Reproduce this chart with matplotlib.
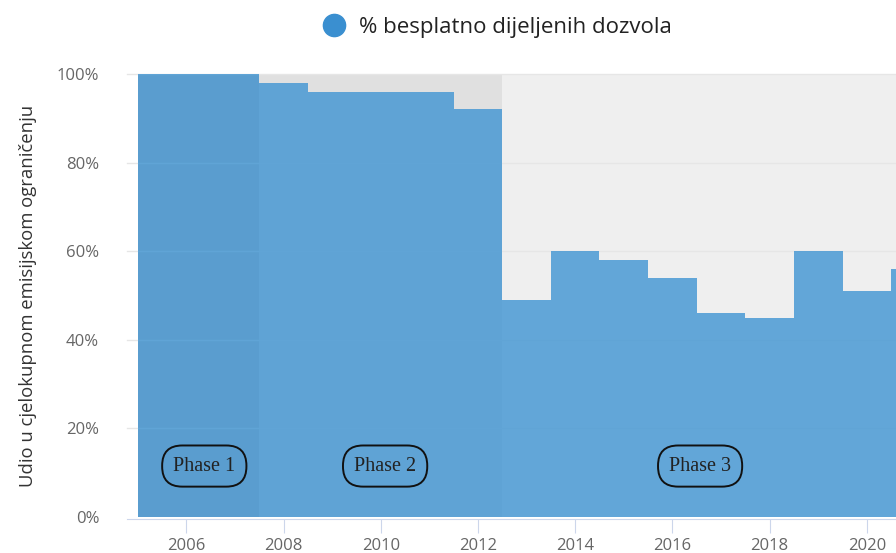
import matplotlib.pyplot as plt
from matplotlib.lines import Line2D

# data
years = [2005, 2006, 2007, 2008, 2009, 2010, 2011, 2012, 2013,
         2014, 2015, 2016, 2017, 2018, 2019, 2020, 2021]
free_share = [100, 100, 100, 98, 96, 96, 96, 92, 49,
              60, 58, 54, 46, 45, 60, 51, 56]
phase_names = ["Phase 1", "Phase 2", "Phase 3"]
phase_edges = [2005, 2007.5, 2012.5, 2022]
phase_colors = ["#c8c8c8", "#e0e0e0", "#efefef"]
phase_label_x = [2006.37, 2010.09, 2016.57]
xticks = [2006, 2008, 2010, 2012, 2014, 2016, 2018, 2020]
yticks = [0, 20, 40, 60, 80, 100]

plt.rcParams['font.family'] = ['Open Sans', 'DejaVu Sans']

fig = plt.figure(figsize=(8.96, 5.53), dpi=100)
ax = fig.add_axes([127 / 896, 36 / 553, 1 - 127 / 896, 443 / 553])

# phase background bands
for i in range(len(phase_names)):
    ax.axvspan(phase_edges[i], phase_edges[i + 1], ymin=0, ymax=1,
               color=phase_colors[i], lw=0, zorder=0)

for y in yticks[1:]:
    ax.axhline(y, color="#e6e6e6", lw=1, zorder=1, clip_on=False)

ax.fill_between(years, 0, free_share, step="mid", color="#3b92d2",
                alpha=0.78, lw=0, zorder=2)

for name, x in zip(phase_names, phase_label_x):
    ax.text(x, 11.5, name, ha="center", va="center", fontsize=14.5,
            family="Liberation Serif", color="#222222", zorder=4,
            bbox=dict(boxstyle="round,pad=0.55,rounding_size=1.0",
                      fc="none", ec="#111111", lw=1.4))

ax.set_xlim(2004.78, 2020.6)
ax.set_ylim(0, 100)
ax.set_xticks(xticks)
ax.set_yticks(yticks)
ax.set_yticklabels([f"{v}%" for v in yticks])
ax.tick_params(axis="x", length=10, color="#ccd6eb", labelsize=12,
               labelcolor="#666666", pad=4)
ax.tick_params(axis="y", length=0, labelsize=12, labelcolor="#666666", pad=20)
for s in ["top", "right", "left"]:
    ax.spines[s].set_visible(False)
ax.spines["bottom"].set_color("#ccd6eb")
ax.spines["bottom"].set_position(("data", -0.4))

ax.set_ylabel("Udio u cjelokupnom emisijskom ograničenju", fontsize=13.3,
              color="#333333", labelpad=14)

handle = Line2D([], [], marker="o", ls="", color="#3a8fd0", markersize=16)
fig.legend([handle], ["% besplatno dijeljenih dozvola"], loc="center",
           bbox_to_anchor=(0.549, 1 - 27 / 553), frameon=False, fontsize=16,
           handletextpad=0.15, labelcolor="#222222")

fig.savefig("out.png", dpi=100)
